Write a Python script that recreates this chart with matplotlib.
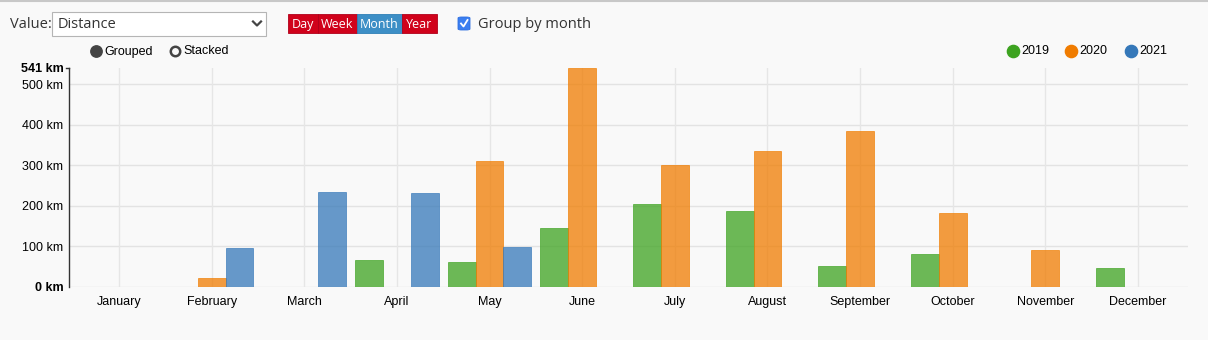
import matplotlib
matplotlib.use("Agg")
import matplotlib.pyplot as plt
from matplotlib.patches import Rectangle, FancyBboxPatch
from matplotlib.lines import Line2D
import numpy as np

# ---- data -------------------------------------------------------------
months = ["January", "February", "March", "April", "May", "June",
          "July", "August", "September", "October", "November", "December"]
years = ["2019", "2020", "2021"]
dist_2019 = [0, 0, 0, 66, 62, 144, 203, 187, 51, 81, 0, 46]
dist_2020 = [0, 21, 0, 0, 310, 541, 301, 335, 385, 182, 91, 0]
dist_2021 = [0, 95, 234, 231, 99, 0, 0, 0, 0, 0, 0, 0]
year_colors = ["#3da320", "#f07c00", "#3578b9"]
y_ticks = [0, 100, 200, 300, 400, 500, 541]

W, H = 1208, 340
BG = "#f9f9f9"
UI_FONT = ["Open Sans", "DejaVu Sans"]
CHART_FONT = ["Liberation Sans", "DejaVu Sans"]

fig = plt.figure(figsize=(W / 100, H / 100), dpi=100, facecolor=BG)


def px(x, y):
    return x / W, 1 - y / H


def dot(x, y, size, face, edge, ew=1.0):
    fig.add_artist(Line2D([x / W], [1 - y / H], marker="o", markersize=size,
                          markerfacecolor=face, markeredgecolor=edge,
                          markeredgewidth=ew))


# ---- chart ------------------------------------------------------------
left, right, top, bottom = 69, 1188, 67.5, 286.7
ax = fig.add_axes([left / W, 1 - bottom / H, (right - left) / W, (bottom - top) / H])
ax.set_facecolor(BG)

series = [dist_2019, dist_2020, dist_2021]
x = np.arange(len(months))
group = 0.9
bw = group / len(series)
for i, (vals, col) in enumerate(zip(series, year_colors)):
    offs = (i - 1) * bw
    ax.bar(x + offs, vals, width=bw, color=col, alpha=0.75,
           edgecolor=col, linewidth=0.6, zorder=3)

ymax = max(max(s) for s in series)
ax.set_ylim(0, ymax)
ax.set_xlim(-0.54, len(months) - 0.46)

ax.set_yticks(y_ticks)
ylabels = [f"{v} km" for v in y_ticks]
ax.set_yticklabels(ylabels, fontsize=9, family=CHART_FONT, color="#000")
for t, v in zip(ax.get_yticklabels(), y_ticks):
    if v in (0, ymax):
        t.set_fontweight("bold")
ax.set_xticks(x)
ax.set_xticklabels(months, fontsize=9, family=CHART_FONT, color="#000")

ax.tick_params(axis="x", length=0, pad=7)
ax.tick_params(axis="y", length=0, pad=4)

for v in y_ticks[:-1]:
    ax.axhline(v, color="#e3e3e3", lw=1, zorder=1)
for xi in x:
    ax.axvline(xi, color="#e6e6e6", lw=1, zorder=1)

for s in ["top", "right", "bottom"]:
    ax.spines[s].set_visible(False)
ax.spines["left"].set_color("#333333")
ax.spines["left"].set_linewidth(1)
# small tick at the axis maximum
ax.plot([-0.54 - 0.035, -0.54], [ymax, ymax], color="#333", lw=1,
        clip_on=False, zorder=4)

# ---- controls above the chart ----------------------------------------
fig.add_artist(Line2D([0, 1], [1 - 1 / H, 1 - 1 / H], color="#c8c8c8", lw=1.5))

fig.text(*px(10, 24.5), "Value:", fontsize=10.5, family=UI_FONT, color="#333",
         va="center", ha="left")
fig.add_artist(Rectangle(px(52, 36), 214 / W, 24 / H, facecolor="white",
                         edgecolor="#b5b5b5", lw=0.8))
fig.text(*px(58, 25), "Distance", fontsize=10.5, family=UI_FONT, color="#333",
         va="center", ha="left")
cx, cy = 257, 23.5
fig.add_artist(Line2D([(cx - 4) / W, cx / W, (cx + 4) / W],
                      [1 - (cy - 2) / H, 1 - (cy + 2) / H, 1 - (cy - 2) / H],
                      color="#444", lw=1.6))

buttons = [("Day", 288, 318, "#d0021b"), ("Week", 318, 357, "#d0021b"),
           ("Month", 357, 402, "#3d8fc6"), ("Year", 402, 437, "#d0021b")]
for label, bx0, bx1, col in buttons:
    edge = "#2f7fb6" if label == "Month" else "#b0001a"
    fig.add_artist(Rectangle(px(bx0, 33), (bx1 - bx0) / W, 19 / H,
                             facecolor=col, edgecolor=edge, lw=0.6))
    fig.text(*px((bx0 + bx1) / 2, 24.5), label, fontsize=9, family=UI_FONT,
             color="white", ha="center", va="center")

# checkbox
fig.add_artist(FancyBboxPatch(px(458, 30), 12 / W, 13 / H,
                              boxstyle="round,pad=0,rounding_size=0.003",
                              facecolor="#3b7ef0", edgecolor="#2f6fe0", lw=0.6))
fig.add_artist(Line2D([461 / W, 463.5 / W, 467.5 / W],
                      [1 - 23.5 / H, 1 - 26.5 / H, 1 - 20 / H],
                      color="white", lw=1.3))
fig.text(*px(478, 24), "Group by month", fontsize=10.5, family=UI_FONT,
         color="#333", va="center", ha="left")

# grouped / stacked radio
dot(96, 51, 8.2, "#444", "#444")
fig.text(*px(104, 51.5), "Grouped", fontsize=9, family=CHART_FONT, color="#000",
         va="center", ha="left")
dot(175, 51, 6.8, BG, "#444", ew=1.8)
fig.text(*px(183, 51.5), "Stacked", fontsize=9, family=CHART_FONT, color="#000",
         va="center", ha="left")

# year legend
for xx, yr, col in zip([1013, 1071, 1131], years, year_colors):
    dot(xx, 51, 8.8, col, col)
    fig.text(*px(xx + 8, 51.5), yr, fontsize=9, family=CHART_FONT, color="#000",
             va="center", ha="left")

fig.savefig("out.png", dpi=100, facecolor=BG)
